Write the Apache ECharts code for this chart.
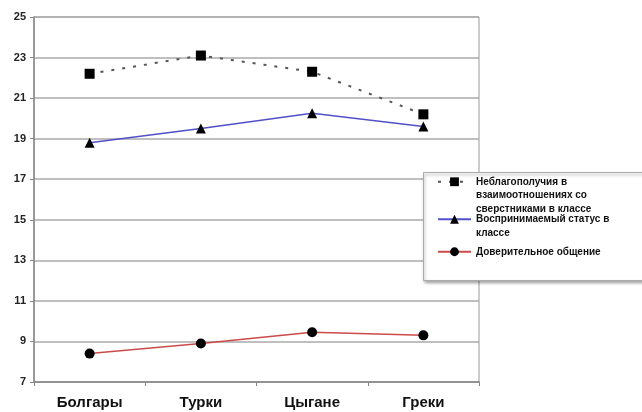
<!DOCTYPE html>
<html><head><meta charset="utf-8">
<script src="https://cdn.jsdelivr.net/npm/echarts@6/dist/echarts.min.js"></script>
<style>html,body{margin:0;padding:0;background:#fff}#c{width:642px;height:412px}</style>
</head><body><div id="c"></div>
<script>
var categories = ['Болгары', 'Турки', 'Цыгане', 'Греки'];
var seriesNames = ['Неблагополучия в взаимоотношениях со сверстниками в классе', 'Воспринимаемый статус в классе', 'Доверительное общение'];
var legendLabels = ['Неблагополучия в\nвзаимоотношениях со\nсверстниками в классе', 'Воспринимаемый статус в\nклассе', 'Доверительное общение'];
var problemsData = [22.2, 23.1, 22.3, 20.2];
var statusData = [18.8, 19.5, 20.25, 19.6];
var trustData = [8.4, 8.9, 9.45, 9.3];
var yTicks = [7, 9, 11, 13, 15, 17, 19, 21, 23, 25];

var chart = echarts.init(document.getElementById('c'), null, {renderer: 'canvas'});
var LH = 13.5;
function mkLegend(i, top) {
  var lines = legendLabels[i].split('\n').length;
  var prefix = new Array(lines).join('\n');
  return {
    data: [seriesNames[i]], left: 437, top: top, padding: 0, orient: 'vertical', z: 6,
    itemWidth: 33, itemHeight: 11, itemGap: 0,
    formatter: function () { return prefix + legendLabels[i]; },
    textStyle: {fontFamily: 'Arial, Liberation Sans', fontWeight: 'bold', fontSize: 10, color: '#111', lineHeight: LH}
  };
}
chart.setOption({
  animation: false,
  backgroundColor: '#fff',
  grid: {left: 34, top: 17, right: 163, bottom: 30, show: true, borderColor: '#999', borderWidth: 1},
  graphic: [{type: 'rect', left: 423, top: 172, z: 1,
    shape: {width: 230, height: 108},
    style: {fill: '#fff', stroke: '#aaa', lineWidth: 1, shadowBlur: 3, shadowOffsetX: 1, shadowOffsetY: 2, shadowColor: 'rgba(0,0,0,0.35)'}}],
  legend: [mkLegend(0, 148), mkLegend(1, 199), mkLegend(2, 245)],
  xAxis: {
    type: 'category', data: categories, boundaryGap: true,
    axisLine: {lineStyle: {color: '#888', width: 1.5}},
    axisTick: {show: true, length: 4, lineStyle: {color: '#888'}},
    axisLabel: {fontFamily: 'Arial, Liberation Sans', fontWeight: 'bold', fontSize: 15, color: '#111', margin: 13}
  },
  yAxis: {
    type: 'value', min: 7, max: 25, interval: 2,
    axisLine: {show: true, lineStyle: {color: '#888', width: 1.5}},
    axisTick: {show: true, length: 4, lineStyle: {color: '#888'}},
    splitLine: {lineStyle: {color: '#aaa', width: 1.5}},
    axisLabel: {fontFamily: 'Arial, Liberation Sans', fontWeight: 'bold', fontSize: 11, color: '#222', margin: 8,
      formatter: function (v) { return yTicks.indexOf(v) >= 0 ? String(v) : ''; }}
  },
  series: [
    {name: seriesNames[0], type: 'line', data: problemsData, symbol: 'rect', symbolSize: 10,
      itemStyle: {color: '#000'}, lineStyle: {color: '#555', width: 2, type: [3, 8]}, z: 3},
    {name: seriesNames[1], type: 'line', data: statusData, symbol: 'triangle', symbolSize: 10,
      itemStyle: {color: '#000'}, lineStyle: {color: '#5050c8', width: 1.5}, z: 3},
    {name: seriesNames[2], type: 'line', data: trustData, symbol: 'circle', symbolSize: 10,
      itemStyle: {color: '#000'}, lineStyle: {color: '#cc4a4a', width: 1.5}, z: 3}
  ]
});
</script></body></html>
